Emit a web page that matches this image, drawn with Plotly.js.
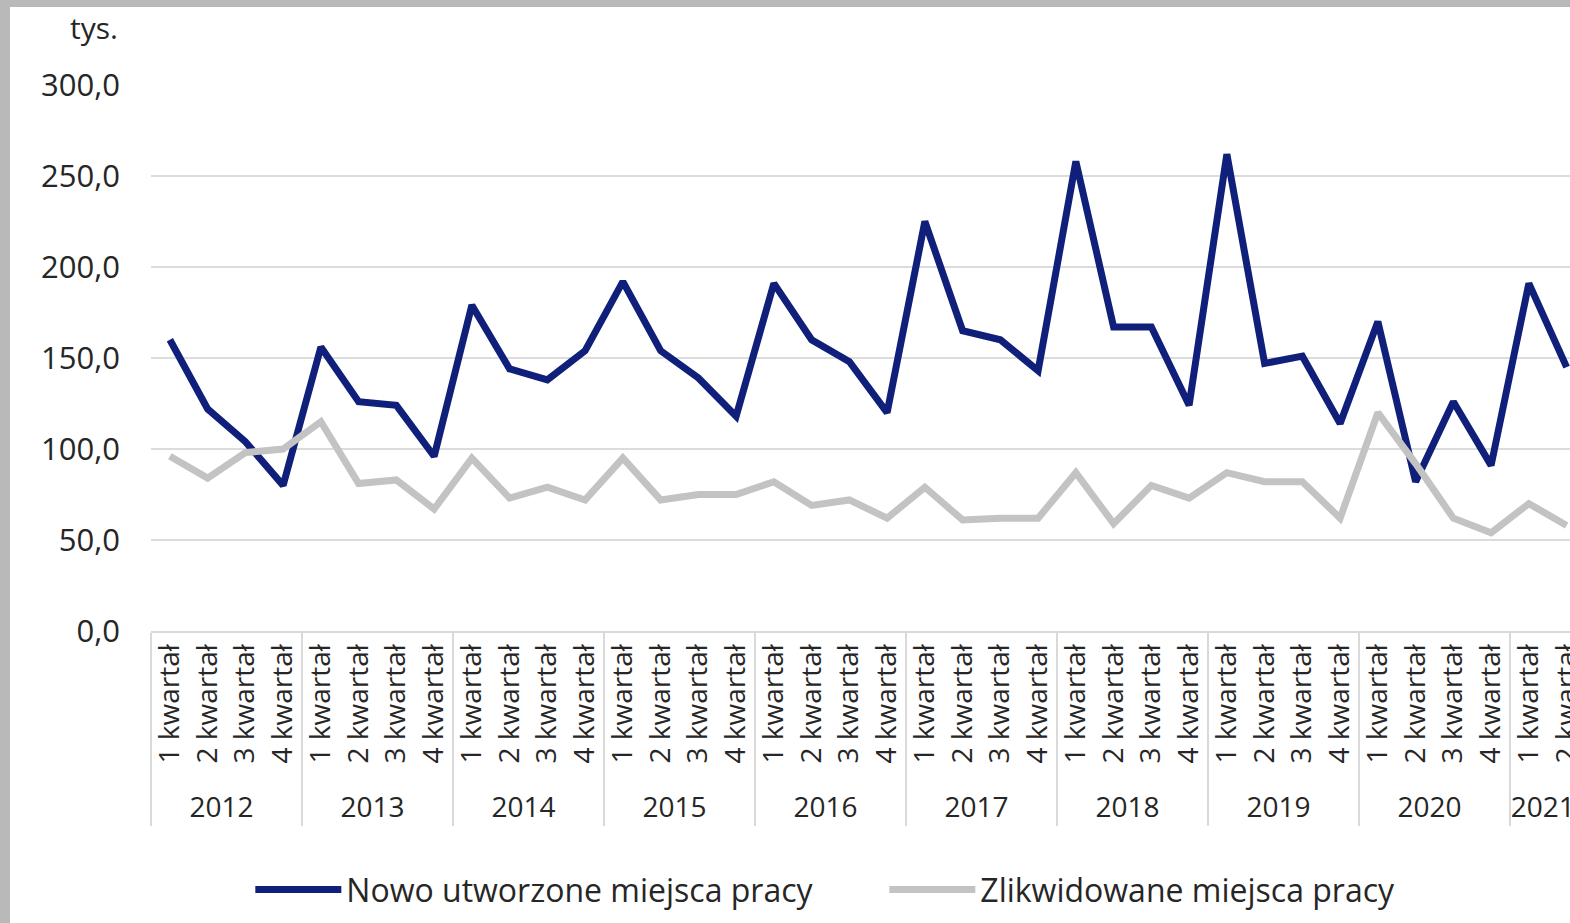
<!DOCTYPE html>
<html>
<head>
<meta charset="utf-8">
<script src="https://cdn.plot.ly/plotly-3.0.1.min.js"></script>
<style>
html,body{margin:0;padding:0;background:#b9b9b9;width:1570px;height:923px;overflow:hidden;}
#chart{position:absolute;left:10px;top:7px;width:1560px;height:916px;background:#fff;}
</style>
</head>
<body>
<div id="chart"></div>
<script>
const yearLabels = ['2012','2013','2014','2015','2016','2017','2018','2019','2020','2021'];
const quarterLabels = ['1 kwartał','2 kwartał','3 kwartał','4 kwartał'];
const quartersInLastYear = 2;

const nowoUtworzone = [160,122,104,80, 156,126,124,96, 179,144,138,154, 192,154,139,118,
  191,160,148,120, 225,165,160,143, 258,167,167,124, 262,147,151,114, 170,82,126,91, 191,145];
const zlikwidowane = [96,84,98,100, 115,81,83,67, 95,73,79,72, 95,72,75,75,
  82,69,72,62, 79,61,62,62, 87,59,80,73, 87,82,82,62, 120,92,62,54, 70,58];

const seriesNames = ['Nowo utworzone miejsca pracy','Zlikwidowane miejsca pracy'];
const yTicks = [0,50,100,150,200,250,300];
const yTickText = ['0,0','50,0','100,0','150,0','200,0','250,0','300,0'];

const xYear = [], xQuarter = [];
yearLabels.forEach((y, i) => {
  const n = (i === yearLabels.length - 1) ? quartersInLastYear : 4;
  for (let q = 0; q < n; q++) { xYear.push(y); xQuarter.push(quarterLabels[q]); }
});

const FONT = '"Open Sans", "Noto Sans", sans-serif';
const TXT = '#262626';

const traces = [
  {x:[xYear,xQuarter], y:nowoUtworzone, name:seriesNames[0], type:'scatter', mode:'lines',
   line:{color:'#0f1f7a', width:7, shape:'linear'}},
  {x:[xYear,xQuarter], y:zlikwidowane, name:seriesNames[1], type:'scatter', mode:'lines',
   line:{color:'#c3c3c3', width:7, shape:'linear'}}
];

const layout = {
  width:1560, height:916,
  margin:{l:141, r:0, t:78, b:292},
  paper_bgcolor:'#ffffff', plot_bgcolor:'#ffffff',
  font:{family:FONT, color:TXT, size:27},
  showlegend:true,
  legend:{orientation:'h', x:0.07, xanchor:'left', y:-0.474, yanchor:'middle',
    font:{family:FONT, size:32, color:TXT}, itemwidth:86, entrywidth:533, entrywidthmode:'pixels',
    traceorder:'normal', bgcolor:'rgba(0,0,0,0)'},
  xaxis:{type:'multicategory', range:[-0.5, 37.09], tickangle:-90,
    showgrid:false, showline:true, linecolor:'#d9d9d9', linewidth:2,
    ticks:'outside', ticklen:18, tickcolor:'rgba(0,0,0,0)', showdividers:true, dividercolor:'#d9d9d9', dividerwidth:2,
    tickfont:{family:FONT, size:28, color:TXT}, fixedrange:true},
  yaxis:{range:[0,300], tickvals:yTicks, ticktext:yTickText, showgrid:true,
    gridcolor:'#dcdcdc', gridwidth:2, zeroline:false, showline:false, ticks:'',
    ticklabelstandoff:30, tickfont:{family:FONT, size:31, color:TXT}, fixedrange:true},
  annotations:[{text:'tys.', xref:'paper', yref:'paper', x:-0.0218, y:1.106,
    xanchor:'right', yanchor:'middle', showarrow:false, font:{family:FONT, size:30, color:TXT}}]
};

Plotly.newPlot('chart', traces, layout, {staticPlot:true, displayModeBar:false});
</script>
</body>
</html>
